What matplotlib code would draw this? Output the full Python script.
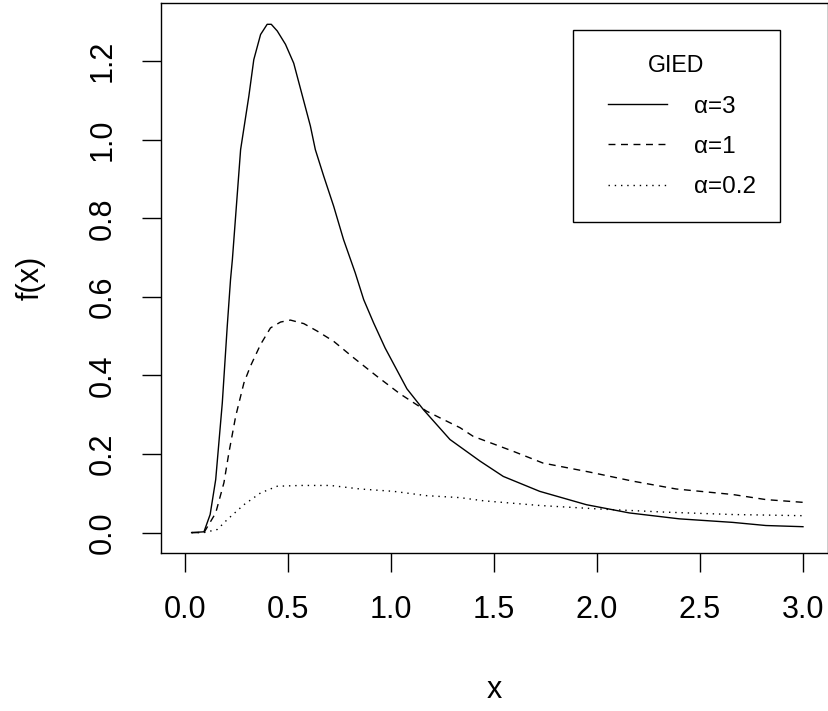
import matplotlib
matplotlib.use("Agg")
import matplotlib.pyplot as plt
from matplotlib.legend_handler import HandlerLine2D

plt.rcParams["font.family"] = ["Liberation Sans", "DejaVu Sans"]

# density curves of the GIED for three shape values
x_a3 = [0.03, 0.09, 0.12, 0.147, 0.179, 0.203, 0.219, 0.228, 0.268, 0.308, 0.332,
        0.365, 0.397, 0.417, 0.446, 0.486, 0.526, 0.607, 0.631, 0.672, 0.720, 0.768,
        0.825, 0.866, 0.914, 0.970, 1.076, 1.156, 1.285, 1.431, 1.544, 1.721,
        1.948, 2.157, 2.399, 2.658, 2.820, 3.0]
y_a3 = [0.0, 0.002, 0.046, 0.135, 0.330, 0.525, 0.644, 0.695, 0.975, 1.111, 1.204,
        1.268, 1.294, 1.294, 1.277, 1.243, 1.195, 1.035, 0.975, 0.907, 0.831, 0.746,
        0.661, 0.593, 0.534, 0.470, 0.366, 0.313, 0.237, 0.182, 0.143, 0.105,
        0.071, 0.050, 0.035, 0.026, 0.018, 0.015]

x_a1 = [0.03, 0.09, 0.147, 0.187, 0.211, 0.244, 0.284, 0.316, 0.365, 0.413, 0.462,
        0.510, 0.575, 0.640, 0.720, 0.817, 0.930, 1.043, 1.172, 1.237, 1.334, 1.398,
        1.592, 1.737, 1.964, 2.173, 2.384, 2.658, 2.820, 3.0]
y_a1 = [0.0, 0.0, 0.050, 0.127, 0.203, 0.296, 0.381, 0.424, 0.479, 0.521, 0.536,
        0.541, 0.532, 0.513, 0.487, 0.445, 0.398, 0.353, 0.309, 0.292, 0.267, 0.245,
        0.207, 0.177, 0.154, 0.131, 0.111, 0.097, 0.084, 0.077]

x_a02 = [0.03, 0.09, 0.155, 0.203, 0.284, 0.365, 0.446, 0.559, 0.704, 0.849, 1.011,
         1.172, 1.334, 1.447, 1.721, 2.012, 2.335, 2.658, 3.0]
y_a02 = [0.0, 0.0, 0.008, 0.033, 0.071, 0.101, 0.118, 0.120, 0.120, 0.111, 0.105,
         0.094, 0.089, 0.081, 0.069, 0.060, 0.052, 0.046, 0.043]

labels = ["α=3", "α=1", "α=0.2"]
x_ticks = [0.0, 0.5, 1.0, 1.5, 2.0, 2.5, 3.0]
y_ticks = [0.0, 0.2, 0.4, 0.6, 0.8, 1.0, 1.2]

TICK_FS = 22
LEG_FS = 17.5
TITLE_FS = 16.7

fig = plt.figure(figsize=(8.29, 7.11), dpi=100)
ax = fig.add_axes([0.1939, 0.2222, 0.8045, 0.774])

ax.plot(x_a3, y_a3, color="black", lw=1.0, ls="-", label=labels[0])
ax.plot(x_a1, y_a1, color="black", lw=1.0, ls=(0, (5, 4)), label=labels[1])
ax.plot(x_a02, y_a02, color="black", lw=1.0, ls=(0, (1, 3.5)), label=labels[2])

ax.set_xlim(-0.12, 3.12)
ax.set_ylim(-0.052, 1.349)
ax.set_xticks(x_ticks, [f"{v:.1f}" for v in x_ticks])
ax.set_yticks(y_ticks, [f"{v:.1f}" for v in y_ticks])

for s in ax.spines.values():
    s.set_linewidth(1.0)

ax.tick_params(axis="both", length=14, width=1.0, labelsize=TICK_FS, direction="out")
ax.tick_params(axis="x", pad=16)
ax.tick_params(axis="y", pad=17)
for lab in ax.get_yticklabels():
    lab.set_rotation(90)
    lab.set_va("center")

ax.set_xlabel("x", fontsize=TICK_FS)
ax.set_ylabel("f(x)", fontsize=TICK_FS)
ax.xaxis.set_label_coords(0.5, -0.249)
ax.xaxis.label.set_va("center")
ax.yaxis.set_label_coords(-0.1945, 0.5)
ax.yaxis.label.set_va("center")

leg = ax.legend(
    title="GIED",
    loc="upper left",
    bbox_to_anchor=(0.618, 0.9504),
    fontsize=LEG_FS,
    title_fontsize=TITLE_FS,
    frameon=True,
    fancybox=False,
    shadow=False,
    borderpad=1.0,
    labelspacing=0.75,
    handlelength=2.87,
    handletextpad=1.1,
    borderaxespad=0.0,
    handler_map={plt.Line2D: HandlerLine2D(xpad=0.44)},
)
leg.get_frame().set_edgecolor("black")
leg.get_frame().set_linewidth(1.0)
leg.get_frame().set_alpha(None)

fig.savefig("out.png", dpi=100)
